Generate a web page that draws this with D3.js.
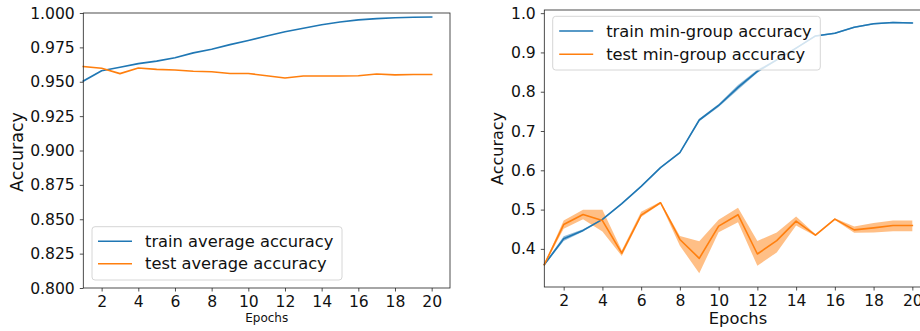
<!DOCTYPE html>
<html>
<head>
<meta charset="utf-8">
<script src="https://cdn.jsdelivr.net/npm/d3@7/dist/d3.min.js"></script>
<style>
  html, body { margin: 0; padding: 0; background: #fff; }
  svg { display: block; font-family: "DejaVu Sans", sans-serif; }
</style>
</head>
<body>
<svg id="chart" width="920" height="331"></svg>
<script>
// ---------- data ----------
const epochs = [1,2,3,4,5,6,7,8,9,10,11,12,13,14,15,16,17,18,19,20];

const trainAvg = [0.9505,0.958,0.9605,0.9632,0.965,0.9675,0.971,0.9736,0.977,0.980,0.9833,0.9864,0.9889,0.9915,0.9935,0.995,0.9959,0.9966,0.9969,0.9971];
const testAvg  = [0.961,0.9598,0.9559,0.960,0.959,0.9585,0.9576,0.9573,0.956,0.956,0.9544,0.9527,0.9542,0.9542,0.9542,0.9544,0.9556,0.955,0.9553,0.9553];

const trainMin   = [0.360,0.4256,0.447,0.475,0.515,0.559,0.607,0.645,0.728,0.765,0.811,0.852,0.881,0.911,0.942,0.949,0.964,0.973,0.976,0.975];
const trainMinLo = [0.358,0.420,0.444,0.473,0.513,0.557,0.605,0.643,0.725,0.761,0.805,0.848,0.879,0.909,0.940,0.947,0.962,0.971,0.974,0.973];
const trainMinHi = [0.362,0.432,0.450,0.477,0.517,0.561,0.609,0.647,0.731,0.769,0.817,0.856,0.883,0.913,0.944,0.951,0.966,0.975,0.978,0.977];

const testMin   = [0.360,0.462,0.4876,0.472,0.389,0.486,0.5175,0.424,0.376,0.458,0.487,0.387,0.421,0.4705,0.435,0.4757,0.4485,0.4535,0.4595,0.4595];
const testMinLo = [0.358,0.451,0.4757,0.444,0.382,0.481,0.515,0.408,0.338,0.4425,0.468,0.357,0.391,0.4596,0.433,0.4737,0.441,0.442,0.445,0.445];
const testMinHi = [0.362,0.472,0.4996,0.4996,0.396,0.4945,0.520,0.433,0.4195,0.474,0.505,0.420,0.442,0.4825,0.437,0.4777,0.457,0.466,0.472,0.472];

const xTicks = [2,4,6,8,10,12,14,16,18,20];
const yTicksLeft = [0.800,0.825,0.850,0.875,0.900,0.925,0.950,0.975,1.000];
const yTicksRight = [0.4,0.5,0.6,0.7,0.8,0.9,1.0];

const legendLeft = ["train average accuracy", "test average accuracy"];
const legendRight = ["train min-group accuracy", "test min-group accuracy"];

const BLUE = "#1f77b4", ORANGE = "#ff7f0e";

// ---------- drawing ----------
const svg = d3.select("#chart");

function panel(opt) {
  const g = svg.append("g");
  const x = d3.scaleLinear().domain([1, 21]).range([opt.left, opt.right]);
  const y = d3.scaleLinear().domain(opt.yDomain).range([opt.bottom, opt.top]);

  // bands
  const area = d3.area().x((d, i) => x(epochs[i])).y0(d => y(d[0])).y1(d => y(d[1]));
  opt.series.forEach(s => {
    if (s.lo) {
      g.append("path")
        .datum(s.lo.map((v, i) => [v, s.hi[i]]))
        .attr("d", area)
        .attr("fill", s.color).attr("fill-opacity", 0.5).attr("stroke", "none");
    }
  });
  // lines
  const line = d3.line().x((d, i) => x(epochs[i])).y(d => y(d));
  opt.series.forEach(s => {
    g.append("path").datum(s.values).attr("d", line)
      .attr("fill", "none").attr("stroke", s.color).attr("stroke-width", 1.6)
      .attr("stroke-linejoin", "round").attr("stroke-linecap", "square");
  });

  // axes
  const xa = g.append("g").attr("transform", `translate(0,${opt.bottom})`)
    .call(d3.axisBottom(x).tickValues(xTicks).tickSize(3.5).tickPadding(4).tickFormat(d3.format("d")));
  const ya = g.append("g").attr("transform", `translate(${opt.left},0)`)
    .call(d3.axisLeft(y).tickValues(opt.yTicks).tickSize(3.5).tickPadding(5).tickFormat(d3.format(opt.yFmt)));
  [xa, ya].forEach(a => {
    a.select(".domain").remove();
    a.selectAll("line").attr("stroke", "#222").attr("stroke-width", 0.8);
    a.selectAll("text").attr("font-size", "15.6px").attr("fill", "#111")
      .attr("font-family", "DejaVu Sans, sans-serif");
  });

  // frame
  g.append("rect").attr("x", opt.left).attr("y", opt.top)
    .attr("width", opt.right - opt.left).attr("height", opt.bottom - opt.top)
    .attr("fill", "none").attr("stroke", "#222").attr("stroke-width", 0.8);

  // labels
  g.append("text").attr("x", (opt.left + Math.min(opt.right, 920 + (opt.right - 920))) / 2)
    .attr("x", opt.xLabelX).attr("y", opt.xLabelY).attr("text-anchor", "middle")
    .attr("font-size", opt.xLabelSize + "px").attr("fill", "#111").text("Epochs");
  g.append("text")
    .attr("transform", `translate(${opt.yLabelX},${opt.yLabelY}) rotate(-90)`)
    .attr("text-anchor", "middle").attr("font-size", opt.yLabelSize + "px")
    .attr("fill", "#111").text("Accuracy");

  // legend
  const L = opt.legend;
  const lg = g.append("g");
  lg.append("rect").attr("x", L.x).attr("y", L.y).attr("width", L.w).attr("height", L.h)
    .attr("rx", 3).attr("fill", "#fff").attr("fill-opacity", 0.8)
    .attr("stroke", "#d6d6d6").attr("stroke-width", 1);
  opt.series.forEach((s, i) => {
    const cy = L.y + L.row0 + i * L.rowGap;
    lg.append("line").attr("x1", L.x + L.lx0).attr("x2", L.x + L.lx1)
      .attr("y1", cy).attr("y2", cy).attr("stroke", s.color).attr("stroke-width", 1.6);
    lg.append("text").attr("x", L.x + L.tx).attr("y", cy).attr("dy", "0.35em")
      .attr("font-size", "16.3px").attr("fill", "#111").text(L.labels[i]);
  });
}

panel({
  left: 83.3, right: 450, top: 13, bottom: 288,
  yDomain: [0.8, 1.0], yTicks: yTicksLeft, yFmt: ".3f",
  series: [
    { values: trainAvg, color: BLUE },
    { values: testAvg, color: ORANGE }
  ],
  xLabelX: 266.7, xLabelY: 322, xLabelSize: 12,
  yLabelX: 23, yLabelY: 152, yLabelSize: 17.5,
  legend: { x: 92, y: 226.7, w: 250, h: 53.3, row0: 14.5, rowGap: 22.5, lx0: 6, lx1: 40, tx: 53, labels: legendLeft }
});

panel({
  left: 544.3, right: 931.7, top: 10, bottom: 287,
  yDomain: [0.303, 1.008], yTicks: yTicksRight, yFmt: ".1f",
  series: [
    { values: trainMin, lo: trainMinLo, hi: trainMinHi, color: BLUE },
    { values: testMin, lo: testMinLo, hi: testMinHi, color: ORANGE }
  ],
  xLabelX: 738, xLabelY: 324, xLabelSize: 16.3,
  yLabelX: 503, yLabelY: 148.5, yLabelSize: 16,
  legend: { x: 552.7, y: 16.3, w: 267.6, h: 53.7, row0: 14.7, rowGap: 23.3, lx0: 6.5, lx1: 40.5, tx: 53.5, labels: legendRight }
});
</script>
</body>
</html>
